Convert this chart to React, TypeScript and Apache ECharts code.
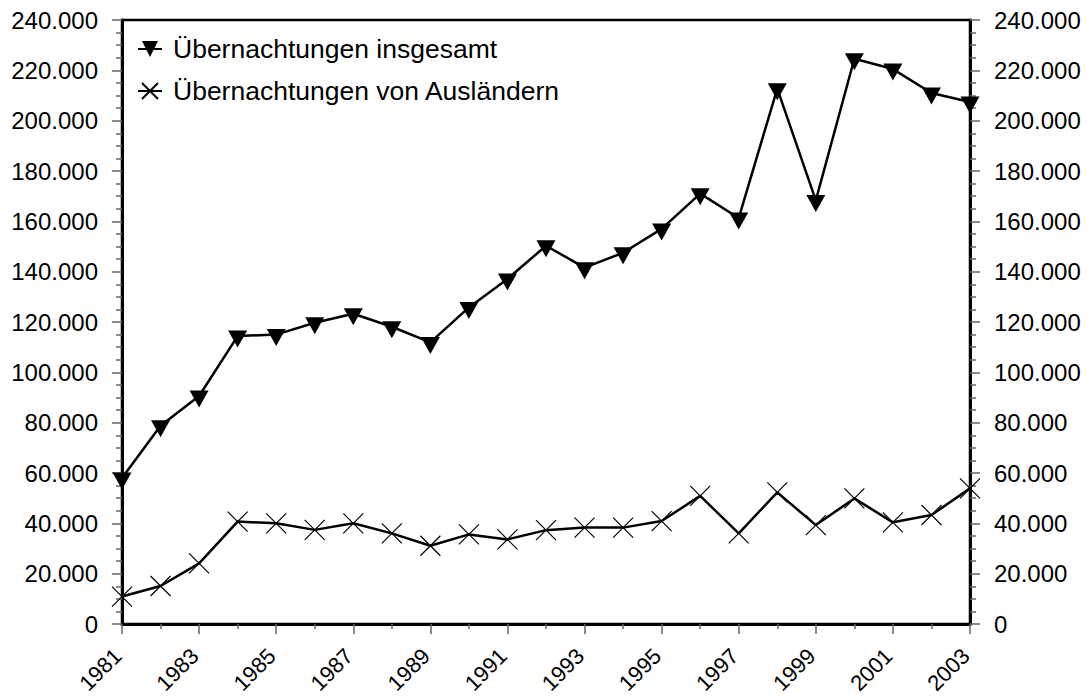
import React, { useEffect, useRef } from "react";
import * as echarts from "echarts";

const years = [1981, 1982, 1983, 1984, 1985, 1986, 1987, 1988, 1989, 1990, 1991, 1992, 1993, 1994, 1995, 1996, 1997, 1998, 1999, 2000, 2001, 2002, 2003];
const insgesamt = [58000, 78800, 90600, 114400, 115000, 119700, 123300, 118100, 111900, 125800, 137100, 150300, 141600, 147500, 157000, 171000, 161300, 212700, 168300, 224600, 220500, 211000, 207400];
const auslaender = [10900, 15100, 24100, 40700, 40000, 37400, 40000, 36000, 31100, 35600, 33600, 37300, 38300, 38300, 40900, 50900, 36000, 52300, 39300, 49900, 40400, 43300, 53900];
const seriesNames = ["Übernachtungen insgesamt", "Übernachtungen von Ausländern"];

const FONT = "Liberation Sans, Arial, sans-serif";

const fmtY = (v: number) => (v === 0 ? "0" : Math.round(v / 1000) + ".000");

export default function App() {
  const ref = useRef<HTMLDivElement>(null);
  useEffect(() => {
    if (!ref.current) return;
    const chart = echarts.init(ref.current, undefined, { renderer: "svg" });
    const yAxisBase = {
      type: "value",
      min: 0,
      max: 240000,
      interval: 20000,
      splitLine: { show: false },
      axisLine: { show: true, lineStyle: { color: "#000", width: 3 } },
      axisTick: { show: true, length: 10, lineStyle: { color: "#666", width: 1.5 } },
      minorTick: { show: true, splitNumber: 4, length: 6, lineStyle: { color: "#666", width: 1.5 } },
      axisLabel: { color: "#000", fontSize: 24, fontFamily: FONT, margin: 24, formatter: fmtY },
    };
    chart.setOption({
      animation: false,
      backgroundColor: "#fff",
      grid: { left: 122, right: 117, top: 20, bottom: 73, show: true, borderColor: "#000", borderWidth: 2.5 },
      legend: {
        show: true,
        orient: "vertical",
        left: 137,
        top: 35,
        padding: 0,
        itemWidth: 24,
        itemHeight: 20,
        itemGap: 14,
        textStyle: { color: "#000", fontSize: 26.5, fontFamily: FONT, lineHeight: 28, padding: [0, 0, 0, 6] },
        data: seriesNames,
      },
      xAxis: {
        type: "value",
        min: 1981,
        max: 2003,
        interval: 2,
        splitLine: { show: false },
        axisLine: { show: true, lineStyle: { color: "#000", width: 3 } },
        axisTick: { show: true, length: 10, lineStyle: { color: "#666", width: 1.5 } },
        minorTick: { show: true, splitNumber: 2, length: 5, lineStyle: { color: "#666", width: 1.5 } },
        axisLabel: {
          color: "#000",
          fontSize: 22,
          fontFamily: FONT,
          rotate: 45,
          margin: 24,
          padding: [0, 6, 0, 0],
          formatter: (v: number) => String(v),
        },
      },
      yAxis: [
        { ...yAxisBase, position: "left" },
        { ...yAxisBase, position: "right" },
      ],
      series: [
        {
          name: seriesNames[0],
          type: "line",
          yAxisIndex: 0,
          data: years.map((y, i) => [y, insgesamt[i]]),
          lineStyle: { color: "#000", width: 2.5 },
          symbol: "path://M0,0L20,0L10,18Z",
          symbolSize: [19, 17],
          symbolOffset: [0, 3],
          showAllSymbol: true,
          itemStyle: { color: "#000", borderWidth: 0 },
          z: 3,
        },
        {
          name: seriesNames[1],
          type: "line",
          yAxisIndex: 0,
          data: years.map((y, i) => [y, auslaender[i]]),
          lineStyle: { color: "#000", width: 2.5 },
          symbol: "path://M0,0L20,20M20,0L0,20",
          symbolSize: 20,
          showAllSymbol: true,
          itemStyle: { color: "none", borderColor: "#000", borderWidth: 1.2 },
          z: 2,
        },
      ],
    });
    return () => chart.dispose();
  }, []);
  return <div ref={ref} style={{ position: "fixed", left: 0, top: 0, width: 1087, height: 697 }} />;
}
